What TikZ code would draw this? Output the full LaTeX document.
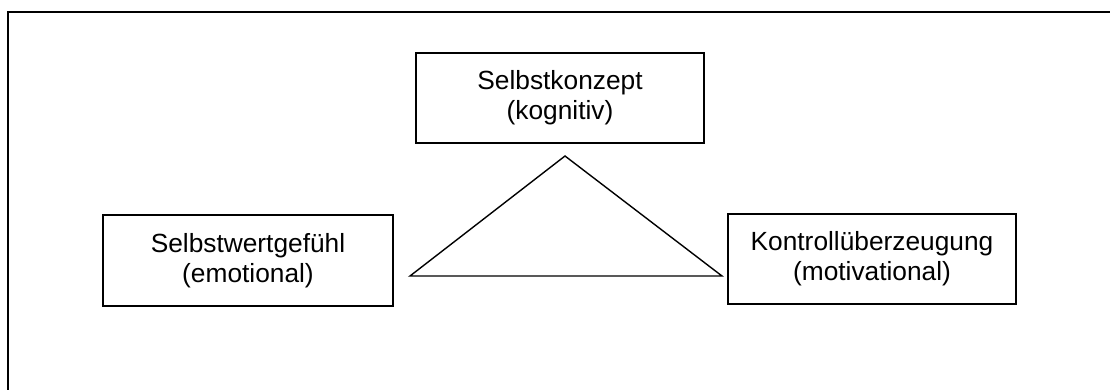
\documentclass[tikz,border=0pt]{standalone}
\usepackage{fontspec}
\setmainfont{Liberation Sans}
\begin{document}
\begin{tikzpicture}[x=1pt,y=-1pt,
  box/.style={draw, line width=1.6pt, inner sep=0pt, align=center,
    font=\fontsize{26.3}{30}\selectfont},
  frame/.style={draw, line width=1.8pt},
  tri/.style={draw, line width=1.4pt, line join=miter}]
\useasboundingbox (0,0) rectangle (1110,389);
\clip (0,0) rectangle (1110,389);
\draw[frame] (8,12) rectangle (1140,420);
\node[box, minimum width=288pt, minimum height=90pt] (selbstkonzept) at (560,98) {Selbstkonzept\\(kognitiv)};
\node[box, minimum width=290pt, minimum height=91pt] (selbstwert) at (248,260.5) {Selbstwertgefühl\\(emotional)};
\node[box, minimum width=288pt, minimum height=90pt] (kontrolle) at (872,259) {Kontrollüberzeugung\\(motivational)};
\coordinate (apex) at (565,156);
\coordinate (bl) at (410,276);
\coordinate (br) at (722,276);
\draw[tri] (apex) -- (br) -- (bl) -- cycle;
\end{tikzpicture}
\end{document}
